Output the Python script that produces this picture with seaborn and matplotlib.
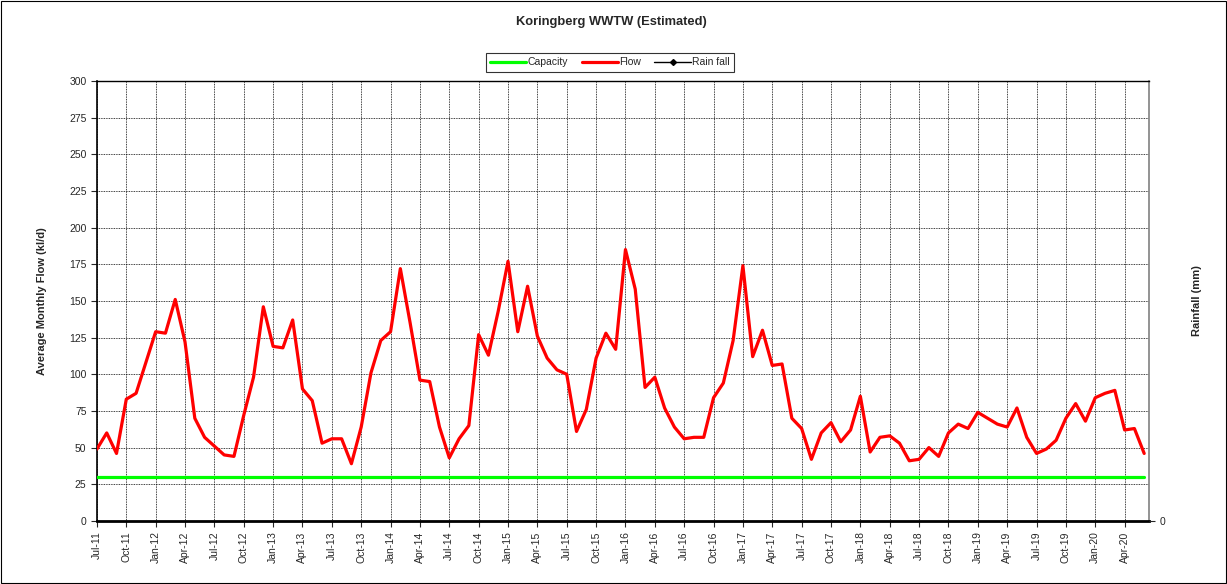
import seaborn as sns
import matplotlib.pyplot as plt
import pandas as pd
from matplotlib.lines import Line2D

# monthly axis: Jul-11 .. Jun-20
months = pd.date_range('2011-07-01', periods=108, freq='MS')
month_labels = [m.strftime('%b-%y') for m in months]

# average monthly flow (kl/d)
flow = [49, 60, 46, 83, 87, 108, 129, 128, 151, 122, 70, 57,
        51, 45, 44, 72, 98, 146, 119, 118, 137, 90, 82, 53,
        56, 56, 39, 64, 101, 123, 129, 172, 135, 96, 95, 64,
        43, 56, 65, 127, 113, 143, 177, 129, 160, 126, 111, 103,
        100, 61, 76, 111, 128, 117, 185, 158, 91, 98, 77, 64,
        56, 57, 57, 84, 94, 123, 174, 112, 130, 106, 107, 70,
        63, 42, 60, 67, 54, 62, 85, 47, 57, 58, 53, 41,
        42, 50, 44, 60, 66, 63, 74, 70, 66, 64, 77, 57,
        46, 49, 55, 70, 80, 68, 84, 87, 89, 62, 63, 46]
capacity = [30] * len(flow)

df = pd.DataFrame({'idx': range(len(flow)), 'Flow': flow, 'Capacity': capacity})

sns.set_style('white')
plt.rcParams['font.family'] = ['Liberation Sans', 'DejaVu Sans']

fig = plt.figure(figsize=(12.27, 5.84), dpi=100)
ax = fig.add_axes([0.079, 0.108, 0.8575, 0.7535])

sns.lineplot(data=df, x='idx', y='Capacity', color='#00FF00', linewidth=2.3, ax=ax, zorder=3)
sns.lineplot(data=df, x='idx', y='Flow', color='#FF0000', linewidth=2.3, ax=ax, zorder=4,
             solid_joinstyle='round')

ax.set_xlim(0, 107.5)
ax.set_ylim(0, 300)
ax.set_yticks(range(0, 301, 25))
ax.set_xticks(range(0, 108, 3))
ax.set_xticklabels(month_labels[::3], rotation=90, fontsize=7.5)
ax.tick_params(axis='y', labelsize=7.5, length=4, width=0.8, direction='out', left=True)
ax.tick_params(axis='x', length=4, width=0.8, direction='out', bottom=True)
ax.grid(True, color='black', linestyle=(0, (1, 1)), linewidth=0.6)
ax.set_axisbelow(True)
ax.set_xlabel('')
ax.set_ylabel('Average Monthly Flow (kl/d)', fontsize=8, fontweight='bold', labelpad=16)
ax.spines['top'].set_color('black')
ax.spines['top'].set_linewidth(1)
ax.spines['left'].set_color('black')
ax.spines['left'].set_linewidth(1.2)
ax.spines['bottom'].set_color('black')
ax.spines['bottom'].set_linewidth(2)
ax.spines['right'].set_color('#808080')
ax.spines['right'].set_linewidth(1.2)

# rainfall axis (no data shown)
ax2 = ax.twinx()
ax2.set_ylim(0, 1)
ax2.set_yticks([0])
ax2.tick_params(axis='y', labelsize=7.5, length=4, width=0.8, right=True)
ax2.set_ylabel('Rainfall (mm)', fontsize=8, fontweight='bold', labelpad=19)
for s in ax2.spines.values():
    s.set_visible(False)

fig.text(0.498, 0.962, 'Koringberg WWTW (Estimated)', fontsize=9.3, fontweight='bold',
         ha='center', va='center')

handles = [Line2D([], [], color='#00FF00', lw=2.3),
           Line2D([], [], color='#FF0000', lw=2.3),
           Line2D([], [], color='black', lw=1, marker='D', markersize=3)]
leg = fig.legend(handles, ['Capacity', 'Flow', 'Rain fall'], loc='center',
                 bbox_to_anchor=(0.497, 0.893), ncol=3, fontsize=7.5, frameon=True,
                 fancybox=False, edgecolor='black', handlelength=3.5, handletextpad=0.1,
                 columnspacing=1.3, borderpad=0.4)
leg.get_frame().set_linewidth(0.8)

# outer chart border
fig.patches.append(plt.Rectangle((0.001, 0.002), 0.998, 0.996, transform=fig.transFigure,
                                 fill=False, edgecolor='black', linewidth=0.8))

fig.savefig('out.png', dpi=100)
plt.close(fig)
